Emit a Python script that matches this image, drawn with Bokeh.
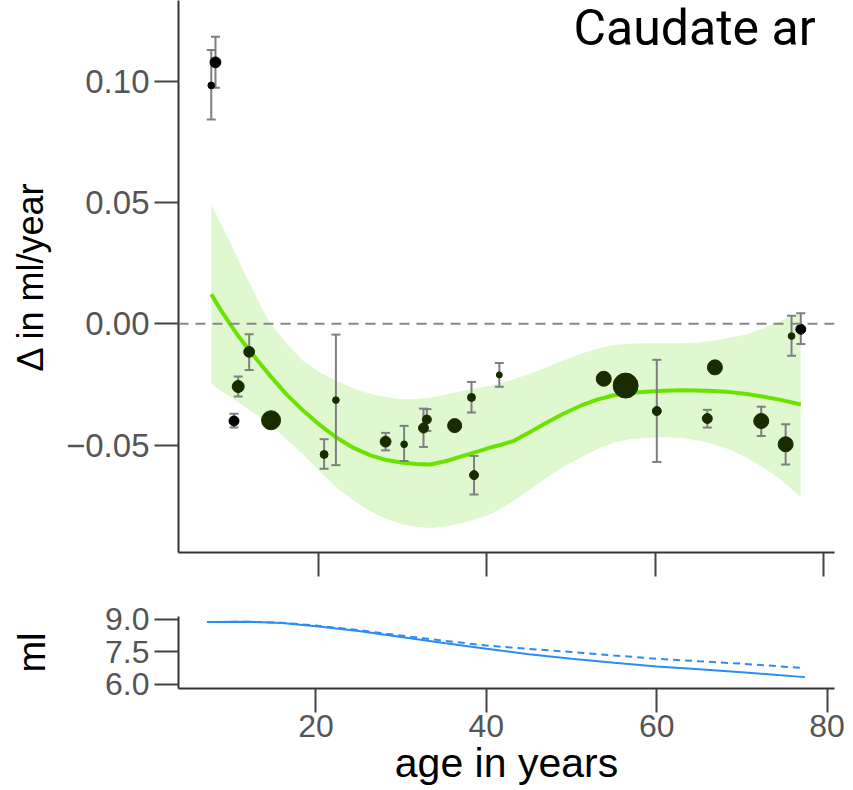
import numpy as np
from bokeh.plotting import figure
from bokeh.models import (Range1d, FixedTicker, CustomJSTickFormatter, ColumnDataSource,
                          Label, Span)
from bokeh.layouts import column
from bokeh.embed import file_html
from bokeh.resources import INLINE

# ---------------- data ----------------
title_text = "Caudate ar"
y_label = "\u0394 in ml/year"
vol_label = "ml"
x_label = "age in years"

delta_ticks = [-0.05, 0.0, 0.05, 0.10]
vol_ticks = [6.0, 7.5, 9.0]
age_ticks = [20, 40, 60, 80]

# individual subjects: mean age, annual change, error interval, weight, group
pt_age = [7.3, 7.8, 10.0, 10.5, 11.8, 14.4, 20.7, 22.1, 28.0, 30.2, 32.5, 32.9, 36.2,
          38.2, 38.5, 41.5, 53.9, 56.5, 60.2, 66.2, 67.1, 72.6, 75.5, 76.2, 77.3]
pt_delta = [0.0982, 0.1077, -0.0401, -0.0259, -0.0116, -0.0398, -0.0539, -0.0315, -0.0486,
            -0.0497, -0.0430, -0.0395, -0.0420, -0.0304, -0.0624, -0.0211, -0.0227, -0.0255,
            -0.0360, -0.0391, -0.0180, -0.0401, -0.0497, -0.0051, -0.0023]
pt_lower = [0.0842, 0.0972, -0.0428, -0.0300, -0.0191, None, -0.0598, -0.0583, -0.0522,
            -0.0566, -0.0508, -0.0442, None, -0.0366, -0.0704, -0.0260, None, None,
            -0.0570, -0.0428, None, -0.0463, -0.0580, -0.0132, -0.0084]
pt_upper = [0.1128, 0.1183, -0.0371, -0.0218, -0.0043, None, -0.0476, -0.0045, -0.0450,
            -0.0421, -0.0350, -0.0352, None, -0.0240, -0.0545, -0.0162, None, None,
            -0.0149, -0.0355, None, -0.0342, -0.0414, 0.0033, 0.0043]
pt_weight = [5, 13, 11, 16, 13, 40, 7, 5, 13, 5, 11, 9, 22, 7, 9, 4, 25, 69, 9, 11, 25,
             25, 25, 5, 11]
pt_group = [0, 0, 0, 1, 1, 1, 1, 1, 1, 1, 1, 1, 1, 1, 1, 1, 1, 1, 1, 1, 1, 1, 1, 1, 0]

# smooth fit with confidence band
fit_age = [7.3, 8.4, 9.5, 10.6, 11.8, 13.0, 14.3, 16.2, 18.2, 20.2, 22.2, 24.2, 26.2,
           28.1, 30.1, 31.7, 33.3, 35.2, 37.2, 38.8, 40.4, 41.8, 43.2, 45.1, 47.1, 49.1,
           51.1, 53.1, 55.1, 57.0, 59.0, 61.0, 63.0, 65.0, 66.9, 68.9, 70.9, 72.9, 74.9,
           77.3]
fit_mean = [0.0121, 0.0058, 0.0, -0.0055, -0.0108, -0.0160, -0.0215, -0.0290, -0.0358,
            -0.0418, -0.0470, -0.0512, -0.0543, -0.0562, -0.0573, -0.0578, -0.0580,
            -0.0566, -0.0545, -0.0528, -0.0511, -0.0498, -0.0483, -0.0447, -0.0408,
            -0.0371, -0.0339, -0.0313, -0.0295, -0.0285, -0.0280, -0.0276, -0.0274,
            -0.0275, -0.0277, -0.0282, -0.0290, -0.0301, -0.0314, -0.0333]
fit_upper = [0.0490, 0.0415, 0.0340, 0.0255, 0.0170, 0.0085, 0.0, -0.0080, -0.0153,
             -0.0200, -0.0236, -0.0266, -0.0290, -0.0303, -0.0311, -0.0310, -0.0304,
             -0.0292, -0.0277, -0.0266, -0.0256, -0.0243, -0.0229, -0.0206, -0.0180,
             -0.0152, -0.0125, -0.0103, -0.0088, -0.0083, -0.0081, -0.0081, -0.0081,
             -0.0077, -0.0070, -0.0058, -0.0043, -0.0018, 0.0012, 0.0045]
fit_lower = [-0.0249, -0.0275, -0.0300, -0.0327, -0.0355, -0.0383, -0.0415, -0.0475,
             -0.0539, -0.0609, -0.0676, -0.0730, -0.0773, -0.0805, -0.0828, -0.0838,
             -0.0842, -0.0835, -0.0821, -0.0805, -0.0786, -0.0760, -0.0731, -0.0684,
             -0.0635, -0.0590, -0.0552, -0.0517, -0.0490, -0.0476, -0.0470, -0.0468,
             -0.0470, -0.0480, -0.0497, -0.0520, -0.0552, -0.0594, -0.0642, -0.0715]

# volume trajectories (bottom panel)
vol_age = [7.2, 12, 16, 20, 25, 30, 35, 40, 45, 50, 55, 60, 65, 70, 77.4]
vol_solid = [8.88, 8.90, 8.84, 8.69, 8.47, 8.19, 7.91, 7.65, 7.40, 7.19, 7.00, 6.83,
             6.70, 6.57, 6.34]
vol_dash_age = [7.2, 12, 16, 20, 25, 30, 35, 40, 45, 50, 55, 60, 65, 70, 76.9]
vol_dashed = [8.88, 8.90, 8.85, 8.72, 8.51, 8.26, 8.02, 7.80, 7.64, 7.50, 7.34, 7.19,
              7.07, 6.96, 6.77]

# ---------------- styles ----------------
TICK_FONT = "Liberation Sans"
TICK_COLOR = "#555555"
AXIS_COLOR = "#333333"
POINT_COLORS = ["#000000", "#182c00"]
FIT_COLOR = "#6be300"
BAND_COLOR = "#e0f8d0"
BLUE = "#2a8cf5"


def style_axes(p):
    for ax in p.axis:
        ax.axis_line_color = AXIS_COLOR
        ax.axis_line_width = 2
        ax.major_tick_line_color = "#444444"
        ax.major_tick_line_width = 2
        ax.major_tick_in = 0
        ax.major_tick_out = 24
        ax.minor_tick_line_color = None
        ax.major_label_text_font = TICK_FONT
        ax.major_label_text_color = TICK_COLOR
        ax.axis_label_text_font = TICK_FONT
        ax.axis_label_text_color = "#000000"
        ax.axis_label_text_font_style = "normal"
    p.xgrid.visible = False
    p.ygrid.visible = False
    p.outline_line_color = None
    p.background_fill_color = "white"
    p.border_fill_color = "white"


minus_fmt2 = CustomJSTickFormatter(code="return tick.toFixed(2).replace('-', '\u2212');")
minus_fmt1 = CustomJSTickFormatter(code="return tick.toFixed(1).replace('-', '\u2212');")

# ---------------- top panel ----------------
p1 = figure(width=853, height=590, output_backend="svg", toolbar_location=None,
            x_range=Range1d(3.41, 81.3), y_range=Range1d(-0.0943, 0.1332),
            min_border_left=178, min_border_right=19, min_border_top=0,
            min_border_bottom=38)
style_axes(p1)

p1.varea(x=fit_age, y1=fit_lower, y2=fit_upper, fill_color=BAND_COLOR, fill_alpha=1.0)
p1.line(x=fit_age, y=fit_mean, line_color=FIT_COLOR, line_width=4)

zero = Span(location=0, dimension="width", line_color="#888888", line_width=2,
            line_dash="10 7")
p1.add_layout(zero)

eb_idx = [i for i in range(len(pt_age)) if pt_lower[i] is not None]
eb_src = ColumnDataSource(dict(
    x=[pt_age[i] for i in eb_idx],
    lo=[pt_lower[i] for i in eb_idx],
    hi=[pt_upper[i] for i in eb_idx],
))
p1.segment(x0="x", y0="lo", x1="x", y1="hi", source=eb_src, line_color="#7f7f7f",
           line_width=2)
p1.scatter(x="x", y="lo", source=eb_src, marker="dash", size=9, line_color="#7f7f7f",
           line_width=2)
p1.scatter(x="x", y="hi", source=eb_src, marker="dash", size=9, line_color="#7f7f7f",
           line_width=2)

pt_src = ColumnDataSource(dict(
    x=pt_age, y=pt_delta,
    size=[3.0 * np.sqrt(w) for w in pt_weight],
    color=[POINT_COLORS[g] for g in pt_group],
))
p1.scatter(x="x", y="y", size="size", source=pt_src, fill_color="color",
           line_color="color")

p1.yaxis.ticker = FixedTicker(ticks=delta_ticks)
p1.yaxis.formatter = minus_fmt2
p1.yaxis.major_label_text_font_size = "33px"
p1.yaxis.major_label_standoff = 5
p1.yaxis.axis_label = y_label
p1.yaxis.axis_label_text_font_size = "36px"
p1.yaxis.axis_label_standoff = 12

p1.xaxis.ticker = FixedTicker(ticks=age_ticks)
p1.xaxis.formatter = CustomJSTickFormatter(code="return '';")
p1.xaxis.major_label_text_font_size = "1px"
p1.xaxis.major_label_standoff = 0

# screen units of a Label are measured from the frame's lower-left corner
title = Label(x=573 - 178, y=525, x_units="screen", y_units="screen",
              text=title_text, text_font="Roboto", text_font_size="50px",
              text_color="#000000", text_baseline="alphabetic", text_align="left")
p1.add_layout(title)

# ---------------- bottom panel ----------------
p2 = figure(width=853, height=200, output_backend="svg", toolbar_location=None,
            x_range=Range1d(3.86, 80.87), y_range=Range1d(5.815, 9.138),
            min_border_left=178, min_border_right=19, min_border_top=26,
            min_border_bottom=102)
style_axes(p2)

p2.line(x=vol_age, y=vol_solid, line_color=BLUE, line_width=2)
p2.line(x=vol_dash_age, y=vol_dashed, line_color=BLUE, line_width=2, line_dash="7 5")

p2.yaxis.ticker = FixedTicker(ticks=vol_ticks)
p2.yaxis.formatter = minus_fmt1
p2.yaxis.major_label_text_font_size = "32px"
p2.yaxis.major_label_standoff = 5
p2.yaxis.axis_label = vol_label
p2.yaxis.axis_label_text_font_size = "38px"
p2.yaxis.axis_label_standoff = 49

p2.xaxis.ticker = FixedTicker(ticks=age_ticks)
p2.xaxis.major_label_text_font_size = "32px"
p2.xaxis.major_label_standoff = 2
p2.xaxis.axis_label = x_label
p2.xaxis.axis_label_text_font_size = "41px"
p2.xaxis.axis_label_standoff = 0

layout = column(p1, p2, spacing=0)
open("out.html", "w").write(file_html(layout, INLINE))
